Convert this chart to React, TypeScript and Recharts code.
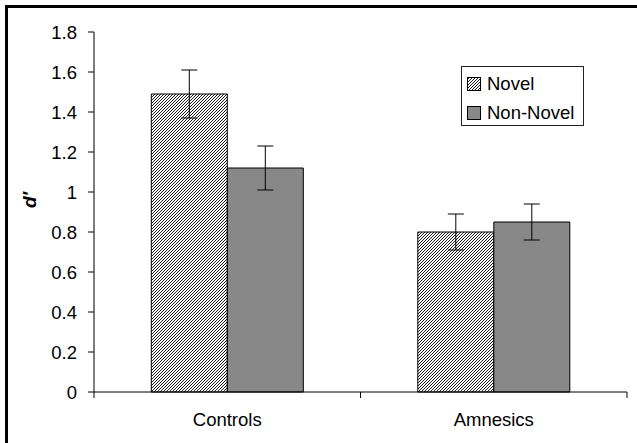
import { BarChart, Bar, XAxis, YAxis, ErrorBar, Legend } from "recharts";

const categories = ["Controls", "Amnesics"];
const seriesNames = ["Novel", "Non-Novel"];
const novel = [1.49, 0.8];
const novelErr = [0.12, 0.09];
const nonNovel = [1.12, 0.85];
const nonNovelErr = [0.11, 0.09];
const yTicks = [0, 0.2, 0.4, 0.6, 0.8, 1, 1.2, 1.4, 1.6, 1.8];

const data = categories.map((name, i) => ({
  name,
  novel: novel[i],
  novelErr: novelErr[i],
  nonNovel: nonNovel[i],
  nonNovelErr: nonNovelErr[i],
}));

const FONT = '"Liberation Sans", Arial, sans-serif';

const renderLegend = (props: any) => {
  const { payload = [] } = props;
  // keep series order (recharts sorts by name otherwise)
  const items = seriesNames
    .map((n) => payload.find((p: any) => p.value === n))
    .filter(Boolean);
  return (
    <div
      style={{
        border: "1px solid #222",
        background: "#fff",
        boxSizing: "border-box",
        width: "100%",
        height: "100%",
        padding: "2px 0 0 5px",
        fontFamily: FONT,
        fontSize: 18.5,
        color: "#000",
      }}
    >
      {items.map((entry: any) => (
        <div
          key={entry.value}
          style={{ display: "flex", alignItems: "center", height: 29, lineHeight: "29px" }}
        >
          <svg width={14} height={14} style={{ marginRight: 6 }}>
            <rect x={0.5} y={0.5} width={13} height={13} fill={entry.color} stroke="#000" />
          </svg>
          <span>{entry.value}</span>
        </div>
      ))}
    </div>
  );
};

// category label plus tick marks at the band edges
const CategoryTick = (props: any) => {
  const { x, y, payload, index, visibleTicksCount } = props;
  const half = payload?.offset ?? 0;
  const axisY = y - 21;
  const last = index === (visibleTicksCount ?? categories.length) - 1;
  return (
    <g>
      <line x1={x - half} x2={x - half} y1={axisY} y2={axisY + 6} stroke="#000" />
      {last && <line x1={x + half} x2={x + half} y1={axisY} y2={axisY + 6} stroke="#000" />}
      <text
        x={x}
        y={y}
        dy="0.71em"
        textAnchor="middle"
        fontFamily={FONT}
        fontSize={18.5}
        fill="#000"
      >
        {payload.value}
      </text>
    </g>
  );
};

export default function App() {
  return (
    <div
      style={{
        position: "relative",
        width: 637,
        height: 443,
        overflow: "hidden",
        background: "#fff",
      }}
    >
      <style>{"html,body{margin:0;padding:0;background:#fff;overflow:hidden}"}</style>
      <BarChart
        width={637}
        height={443}
        data={data}
        margin={{ top: 32, right: 10, left: 0, bottom: 0 }}
        barCategoryGap="21.5%"
        barGap={0}
      >
        <defs>
          <pattern id="hatch" patternUnits="userSpaceOnUse" width={3} height={3}>
            <rect width={3} height={3} fill="#fff" />
            <path
              d="M-0.75,0.75 l1.5,-1.5 M0,3 l3,-3 M2.25,3.75 l1.5,-1.5"
              stroke="#000"
              strokeWidth={0.9}
            />
          </pattern>
        </defs>
        <XAxis
          dataKey="name"
          height={51}
          axisLine={{ stroke: "#000" }}
          tickLine={false}
          tickSize={6}
          tickMargin={15}
          tick={<CategoryTick />}
        />
        <YAxis
          width={94}
          domain={[0, 1.8]}
          ticks={yTicks}
          interval={0}
          tickSize={6}
          tickMargin={11}
          axisLine={{ stroke: "#000" }}
          tickLine={{ stroke: "#000" }}
          tick={{ fill: "#000", fontSize: 18.5, fontFamily: FONT }}
          label={{
            content: (p: any) => {
              const vb = p.viewBox || { x: 0, y: 0, width: 94, height: 360 };
              const cx = vb.x + 29;
              const cy = vb.y + vb.height / 2 - 12;
              return (
                <text
                  x={cx}
                  y={cy}
                  transform={`rotate(-90, ${cx}, ${cy})`}
                  textAnchor="middle"
                  dominantBaseline="central"
                  fontFamily={FONT}
                  fontSize={19}
                  fontWeight="bold"
                  fontStyle="italic"
                  fill="#000"
                >
                  d′
                </text>
              );
            },
          }}
        />
        <Legend
          layout="vertical"
          align="center"
          verticalAlign="middle"
          content={renderLegend}
          wrapperStyle={{ left: 461, top: 66, width: 123, height: 60 }}
        />
        <Bar
          dataKey="novel"
          name="Novel"
          fill="url(#hatch)"
          stroke="#000"
          strokeWidth={1}
          isAnimationActive={false}
        >
          <ErrorBar dataKey="novelErr" width={8} stroke="#000" strokeWidth={1} />
        </Bar>
        <Bar
          dataKey="nonNovel"
          name="Non-Novel"
          fill="#888888"
          stroke="#000"
          strokeWidth={1}
          isAnimationActive={false}
        >
          <ErrorBar dataKey="nonNovelErr" width={8} stroke="#000" strokeWidth={1} />
        </Bar>
      </BarChart>
      {/* outer frame: only left and top edges are visible in the source */}
      <div
        style={{
          position: "absolute",
          left: 5,
          top: 5,
          right: 0,
          bottom: 0,
          borderLeft: "3px solid #000",
          borderTop: "3px solid #000",
          pointerEvents: "none",
        }}
      />
    </div>
  );
}
